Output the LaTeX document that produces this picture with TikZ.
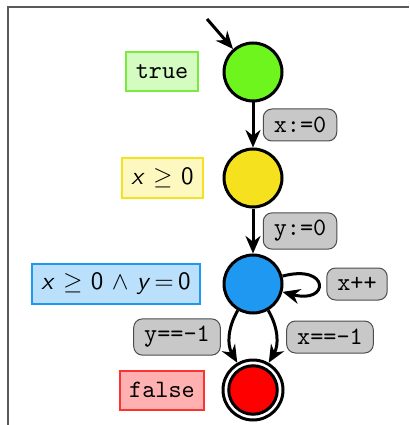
\documentclass[tikz,border=0pt]{standalone}
\usetikzlibrary{arrows.meta}
\definecolor{cgreen}{RGB}{110,245,30}
\definecolor{cyellow}{RGB}{245,225,30}
\definecolor{cblue}{RGB}{30,152,240}
\definecolor{cred}{RGB}{255,0,0}
\definecolor{lgreen}{RGB}{212,252,192}
\definecolor{lyellow}{RGB}{252,248,192}
\definecolor{lblue}{RGB}{186,224,252}
\definecolor{lred}{RGB}{255,176,176}
\definecolor{bgreen}{RGB}{120,235,60}
\definecolor{bred}{RGB}{255,50,50}
\definecolor{egray}{RGB}{200,200,200}
\begin{document}
\begin{tikzpicture}[x=0.4pt,y=-0.4pt,
  state/.style={circle,draw=black,line width=1.2pt,minimum size=23.2pt,inner sep=0pt},
  inv/.style={draw=#1,line width=0.8pt,inner xsep=3.8pt,inner ysep=3.5pt,minimum height=15.6pt},
  elab/.style={draw=black!70,fill=egray,rounded corners=3.5pt,line width=0.4pt,inner xsep=4.2pt,inner ysep=3pt,minimum height=12.8pt,font=\ttfamily},
  trans/.style={line width=1.2pt,-{Stealth[length=7pt,width=6pt]}}]
\useasboundingbox (0,0) rectangle (409,425);
\draw[line width=1pt,black!65] (8,425) -- (8,7) -- (409,7);
\node[state,fill=cgreen] (q0) at (253,72) {};
\node[state,fill=cyellow] (q1) at (253,178) {};
\node[state,fill=cblue] (q2) at (253,284) {};
\node[circle,draw=black,line width=1.2pt,minimum size=24pt,inner sep=0pt] (q3) at (253,390) {};
\node[state,fill=cred,minimum size=19.4pt] (q3i) at (253,390) {};
\coordinate (init) at (207,19);
\node[inv=bgreen,fill=lgreen,font=\ttfamily] (l0) at (162,72) {true};
\node[inv=cyellow,fill=lyellow,font=\sffamily] (l1) at (162.5,178) {\textit{x} $\geq$ 0};
\node[inv=cblue,fill=lblue,font=\sffamily] (l2) at (116,284) {\textit{x} $\geq$ 0 $\wedge$ \textit{y}$\,{=}\,$0};
\node[inv=bred,fill=lred,font=\ttfamily] (l3) at (162,390) {false};
\draw[trans] (init) -- (q0);
\draw[trans] (q0) -- (q1);
\draw[trans] (q1) -- (q2);
\draw[trans] (q2) to[loop right,min distance=14pt,looseness=8] (q2);
\draw[trans] (q2) to[out=240,in=120] (q3);
\draw[trans] (q2) to[out=-60,in=60] (q3);
\node[elab] (e0) at (300,125) {x:=0};
\node[elab] (e1) at (300,231) {y:=0};
\node[elab] (e2) at (357,284) {x++};
\node[elab] (e3) at (177,337) {y==-1};
\node[elab] (e4) at (330,337) {x==-1};
\end{tikzpicture}
\end{document}
